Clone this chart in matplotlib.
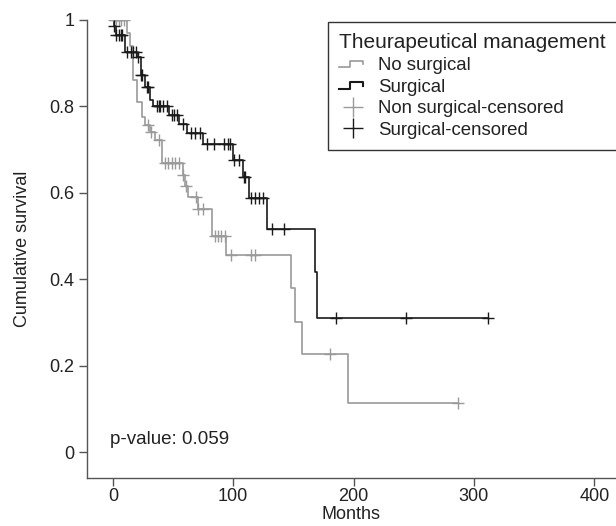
import matplotlib.pyplot as plt
from matplotlib.lines import Line2D
from matplotlib.legend_handler import HandlerBase

plt.rcParams['font.family'] = ['Liberation Sans', 'DejaVu Sans']

# Kaplan-Meier steps (months, survival)
nosurg_t = [0, 11.5, 14, 16.5, 20, 24, 27, 31, 35, 41, 58, 60, 62.5, 71, 82, 94, 148, 151, 157, 195, 287]
nosurg_s = [1.0, 0.97, 0.94, 0.861, 0.81, 0.776, 0.757, 0.741, 0.723, 0.669, 0.641, 0.616, 0.59, 0.563, 0.5,
            0.455, 0.38, 0.30, 0.227, 0.113, 0.113]
nosurg_cens_t = [1, 3, 5, 7, 9, 29, 32, 38, 43, 46, 49, 52, 55, 58.5, 61, 69, 71, 75, 85, 87, 90, 93, 98, 115,
                 118, 180, 287]

surg_t = [0, 1, 3, 10, 20, 23, 27, 31, 33, 47, 55, 62, 75, 100, 108, 113, 128, 168, 170, 312]
surg_s = [1.0, 0.985, 0.965, 0.926, 0.914, 0.873, 0.845, 0.815, 0.80, 0.78, 0.759, 0.738, 0.713, 0.676, 0.637,
          0.588, 0.516, 0.417, 0.31, 0.31]
surg_cens_t = [1, 3, 5, 7, 8, 12, 15, 17, 19, 21, 23, 24, 28, 29, 37, 38, 39, 42, 45, 49, 51, 53, 58, 65, 68, 72,
               78, 84, 92, 96, 97, 101, 105, 109, 110, 115, 118, 121, 125, 132, 142, 185, 243.5, 312]

grey = '#9a9a9a'
black = '#1a1a1a'
axcol = '#555555'


def surv_at(times, surv, t):
    s = surv[0]
    for ti, si in zip(times, surv):
        if ti <= t:
            s = si
    return s


class StepHandler(HandlerBase):
    def create_artists(self, legend, orig_handle, xdescent, ydescent, width, height, fontsize, trans):
        x = [0, 0.4 * width, 0.4 * width, 0.85 * width, 0.85 * width]
        y = [0.2 * height, 0.2 * height, 0.7 * height, 0.7 * height, 0.45 * height]
        x = [v - xdescent for v in x]
        y = [v - ydescent for v in y]
        ln = Line2D(x, y, color=orig_handle.get_color(), lw=orig_handle.get_linewidth(), transform=trans)
        return [ln]


fig = plt.figure(figsize=(6.16, 5.26), dpi=100)
ax = fig.add_axes([0.141, 0.0913, 0.859, 0.8707])

ax.step(nosurg_t, nosurg_s, where='post', color=grey, lw=1.2)
ax.step(surg_t, surg_s, where='post', color=black, lw=1.2)
ax.plot(nosurg_cens_t, [surv_at(nosurg_t, nosurg_s, t) for t in nosurg_cens_t], ls='none', marker='+',
        ms=8, mew=1.0, color=grey)
ax.plot(surg_cens_t, [surv_at(surg_t, surg_s, t) for t in surg_cens_t], ls='none', marker='+',
        ms=8, mew=1.0, color=black)

ax.set_xlim(-21.6, 418)
ax.set_ylim(-0.060, 1.0)
ax.set_xticks([0, 100, 200, 300, 400])
ax.set_yticks([0, 0.2, 0.4, 0.6, 0.8, 1])
ax.set_yticklabels(['0', '0.2', '0.4', '0.6', '0.8', '1'])
for s in ['top', 'right']:
    ax.spines[s].set_visible(False)
for s in ['left', 'bottom']:
    ax.spines[s].set_color(axcol)
    ax.spines[s].set_linewidth(1.0)
ax.tick_params(colors=axcol, labelcolor='#222222', labelsize=13, length=5.5, width=1.0, direction='out')
ax.tick_params(axis='x', pad=1.5)
ax.set_xlabel('Months', fontsize=13, color='#222222', labelpad=1)
ax.set_ylabel('Cumulative survival', fontsize=13, color='#222222', labelpad=13)

ax.text(-2.5, 0.03, 'p-value: 0.059', fontsize=13.5, color='#222222', va='center', ha='left')

h1 = Line2D([], [], color=grey, lw=1.2)
h2 = Line2D([], [], color=black, lw=1.5)
h3 = Line2D([], [], ls='none', marker='+', ms=14, mew=1.0, color=grey)
h4 = Line2D([], [], ls='none', marker='+', ms=14, mew=1.0, color=black)
leg = fig.legend([h1, h2, h3, h4], ['No surgical', 'Surgical', 'Non surgical-censored', 'Surgical-censored'],
                 handler_map={h1: StepHandler(), h2: StepHandler()},
                 loc='upper left', bbox_to_anchor=(328 / 616, 1 - 22 / 526), bbox_transform=fig.transFigure,
                 title='Theurapeutical management', title_fontsize=15, fontsize=13.4, fancybox=False,
                 edgecolor='#333333', framealpha=1, borderpad=0.6, labelspacing=0.25, handlelength=1.5,
                 handletextpad=0.6, borderaxespad=0, alignment='left')
leg.get_frame().set_linewidth(1.0)
for t in leg.get_texts():
    t.set_color('#222222')
leg.get_title().set_color('#222222')

fig.savefig('out.png', dpi=100)
